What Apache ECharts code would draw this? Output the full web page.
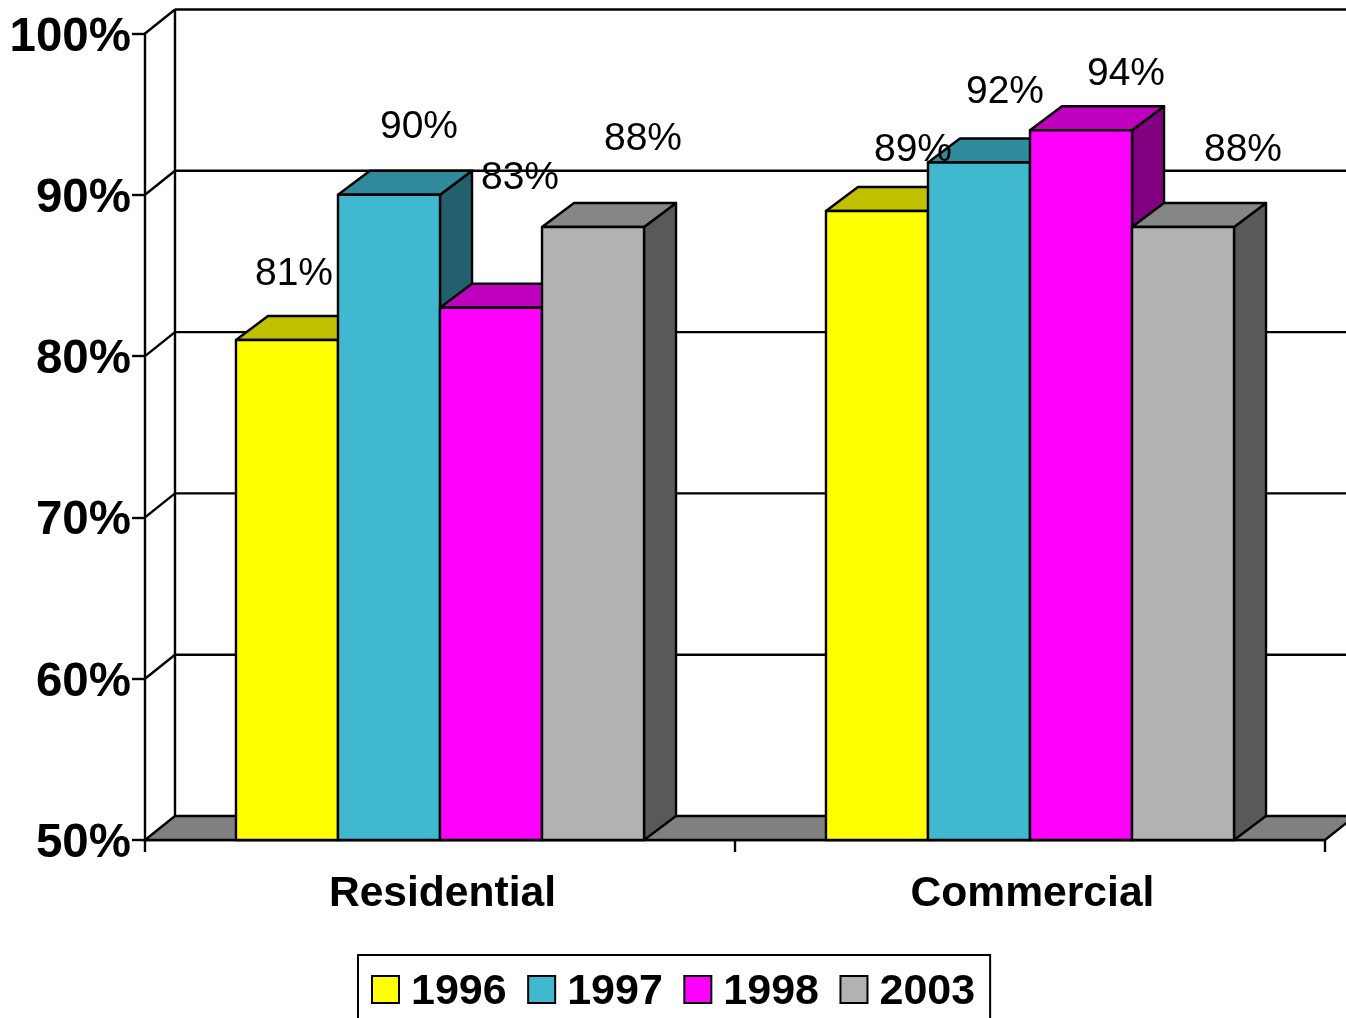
<!DOCTYPE html>
<html>
<head>
<meta charset="utf-8">
<style>html,body{margin:0;padding:0;background:#fff;overflow:hidden}#c{width:1346px;height:1018px}</style>
<script src="https://cdn.jsdelivr.net/npm/echarts@6/dist/echarts.min.js"></script>
</head>
<body>
<div id="c"></div>
<script>
const categories = ['Residential', 'Commercial'];
const years = ['1996', '1997', '1998', '2003'];
const values1996 = [81, 89];
const values1997 = [90, 92];
const values1998 = [83, 94];
const values2003 = [88, 88];
const yTicks = [50, 60, 70, 80, 90, 100];

const allValues = [values1996, values1997, values1998, values2003];
const frontColors = ['#FFFF00', '#3FB8D0', '#FF00FF', '#B2B2B2'];
const topColors = ['#C0C000', '#2F8A9C', '#BF00BF', '#868686'];
const sideColors = ['#808000', '#235F6C', '#800080', '#595959'];
// pixel nudges of the value labels from the top centre of each bar's front face
const labelNudges = [
  [[7, -66], [36, -61]],
  [[30, -68], [26, -70]],
  [[29, -129], [45, -56]],
  [[50, -88], [60, -77]]
];
const DX = 30, BAR_DX = 32, DY = -24, BAR_SHARE = 0.1729;
const LINE = 2.4;
const FONT = '"Liberation Sans", Arial, sans-serif';
const stroke = { stroke: '#000', lineWidth: LINE };

function wallItem(params, api) {
  const cs = params.coordSys;
  const y = api.coord([0, api.value(0)])[1];
  const xl = cs.x, xr = cs.x + cs.width;
  const kids = [];
  if (api.value(0) === yTicks[0]) {
    kids.push({ type: 'polygon', shape: { points: [[xl, y], [xl + DX, y + DY], [xr + DX, y + DY], [xr, y]] },
      style: { fill: '#808080', stroke: '#000', lineWidth: LINE } });
  } else {
    kids.push({ type: 'line', shape: { x1: xl + DX, y1: y + DY, x2: xr + DX, y2: y + DY }, style: stroke });
    kids.push({ type: 'line', shape: { x1: xl, y1: y, x2: xl + DX, y2: y + DY }, style: stroke });
  }
  if (api.value(0) === yTicks[yTicks.length - 1]) {
    kids.push({ type: 'line', shape: { x1: xl + DX, y1: y + DY, x2: xl + DX, y2: cs.y + cs.height + DY }, style: stroke });
  }
  return { type: 'group', children: kids };
}

function barRenderer(si) {
  return function (params, api) {
    const top = api.coord([api.value(0), api.value(1)]);
    const base = api.coord([api.value(0), yTicks[0]]);
    const w = api.size([1, 0])[0] * BAR_SHARE;
    const x0 = top[0] + (si - 2) * w, x1 = x0 + w, yt = top[1], yb = base[1];
    const s = (fill) => ({ fill: fill, stroke: '#000', lineWidth: LINE, lineJoin: 'round' });
    return { type: 'group', children: [
      { type: 'polygon', shape: { points: [[x1, yb], [x1 + BAR_DX, yb + DY], [x1 + BAR_DX, yt + DY], [x1, yt]] }, style: s(sideColors[si]) },
      { type: 'polygon', shape: { points: [[x0, yt], [x0 + BAR_DX, yt + DY], [x1 + BAR_DX, yt + DY], [x1, yt]] }, style: s(topColors[si]) },
      { type: 'rect', shape: { x: x0, y: yt, width: w, height: yb - yt }, style: s(frontColors[si]) }
    ] };
  };
}

function labelRenderer(si) {
  return function (params, api) {
    const ci = api.value(0);
    const top = api.coord([ci, api.value(1)]);
    const w = api.size([1, 0])[0] * BAR_SHARE;
    const cx = top[0] + (si - 1.5) * w;
    const n = labelNudges[si][ci];
    return { type: 'text', x: cx + n[0], y: top[1] + n[1],
      style: { text: api.value(1) + '%', fill: '#000', font: '39px ' + FONT, textAlign: 'center', textVerticalAlign: 'middle' } };
  };
}

const series = [{
  type: 'custom', name: 'wall', coordinateSystem: 'cartesian2d', silent: true, z: 2,
  encode: { y: 0 }, data: yTicks.map(v => [v]), renderItem: wallItem
}];
years.forEach((yr, si) => {
  series.push({
    type: 'custom', name: yr, coordinateSystem: 'cartesian2d', z: 3,
    itemStyle: { color: frontColors[si] },
    encode: { x: 0, y: 1 },
    data: allValues[si].map((v, ci) => [ci, v]),
    renderItem: barRenderer(si)
  });
});
years.forEach((yr, si) => {
  series.push({
    type: 'custom', name: 'labels' + yr, coordinateSystem: 'cartesian2d', silent: true, z: 5,
    encode: { x: 0, y: 1 },
    data: allValues[si].map((v, ci) => [ci, v]),
    renderItem: labelRenderer(si)
  });
});

const chart = echarts.init(document.getElementById('c'), null, { renderer: 'canvas' });
chart.setOption({
  animation: false,
  backgroundColor: '#fff',
  grid: { left: 145, right: 21, top: 33.5, bottom: 178, containLabel: false },
  xAxis: {
    type: 'category', data: categories, boundaryGap: true,
    axisLine: { show: true, onZero: false, lineStyle: { color: '#000', width: LINE } },
    axisTick: { show: true, length: 12, lineStyle: { color: '#000', width: LINE } },
    axisLabel: { margin: 33, color: '#000', fontFamily: 'Liberation Sans', fontWeight: 'bold', fontSize: 42.6, padding: [0, 0, 0, 5] },
    splitLine: { show: false }
  },
  yAxis: {
    type: 'value', min: 50, max: 100, interval: 10,
    axisLine: { show: true, lineStyle: { color: '#000', width: LINE } },
    axisTick: { show: true, length: 13, lineStyle: { color: '#000', width: LINE } },
    axisLabel: { margin: 14, formatter: '{a|{value}%}',
      rich: { a: { color: '#000', fontFamily: 'Liberation Sans', fontWeight: 'bold', fontSize: 47.5, padding: [8, 0, 0, 0] } } },
    splitLine: { show: false }
  },
  legend: {
    data: years, left: 358, top: 955, orient: 'horizontal',
    backgroundColor: '#fff', borderColor: '#000', borderWidth: 2, borderRadius: 0,
    padding: [16, 15, 36, 13], itemGap: 20.5, itemWidth: 27, itemHeight: 27, icon: 'rect',
    itemStyle: { borderColor: '#000', borderWidth: 2 },
    selectedMode: false,
    formatter: '{a|{name}}',
    textStyle: { rich: { a: { color: '#000', fontFamily: 'Liberation Sans', fontWeight: 'bold', fontSize: 43, padding: [6, 0, 0, 7] } } }
  },
  series: series
});
</script>
</body>
</html>
